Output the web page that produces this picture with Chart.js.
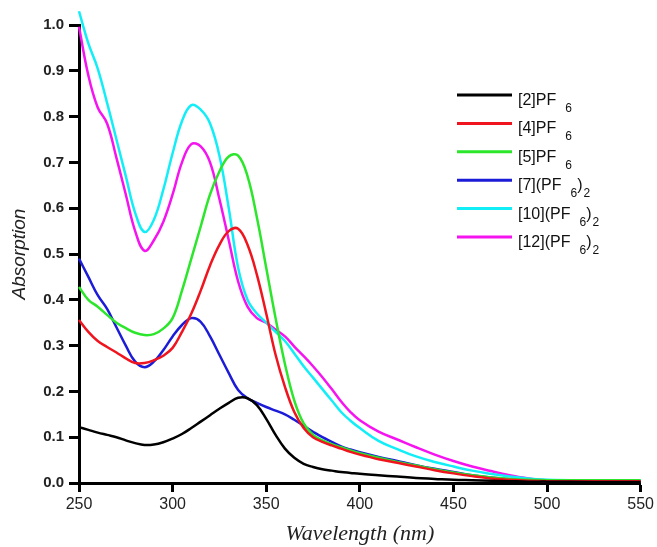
<!DOCTYPE html>
<html>
<head>
<meta charset="utf-8">
<script src="https://cdn.jsdelivr.net/npm/chart.js@4.4.0/dist/chart.umd.min.js"></script>
<style>
    html, body { margin: 0; padding: 0; background: #fff; }
    #wrap { width: 657px; height: 547px; position: relative; }
</style>
</head>
<body>
<div id="wrap"><canvas id="absChart"></canvas></div>
<script>
// Wavelength grid (nm) shared by all spectra
const wavelengths = [250, 255, 260, 265, 270, 275, 280, 285, 290, 295, 300, 305, 310, 315, 320, 325, 330, 335, 340, 345, 350, 355, 360,
                     365, 370, 375, 380, 385, 390, 395, 400, 410, 420, 430, 440, 450, 460, 470, 480, 490, 500, 525, 550];

const seriesNames = ['[2]PF₆', '[4]PF₆', '[5]PF₆', '[7](PF₆)₂', '[10](PF₆)₂', '[12](PF₆)₂'];
const seriesColors = ['#000000', '#f0141e', '#2be62b', '#1c1cd8', '#12eef8', '#f514f0'];

const abs2 = [0.122, 0.116, 0.110, 0.105, 0.100, 0.093, 0.087, 0.083, 0.084, 0.089, 0.097, 0.107, 0.120, 0.134, 0.148, 0.162, 0.175, 0.186, 0.185, 0.170, 0.140, 0.105, 0.075,
              0.055, 0.042, 0.035, 0.030, 0.027, 0.024, 0.022, 0.020, 0.017, 0.014, 0.011, 0.009, 0.007, 0.006, 0.005, 0.004, 0.003, 0.003, 0.002, 0.002];
const abs4 = [0.356, 0.330, 0.310, 0.297, 0.285, 0.272, 0.262, 0.262, 0.268, 0.278, 0.295, 0.330, 0.370, 0.420, 0.475, 0.520, 0.550, 0.555, 0.520, 0.455, 0.370, 0.280, 0.210,
              0.155, 0.120, 0.100, 0.090, 0.082, 0.075, 0.068, 0.062, 0.052, 0.044, 0.036, 0.028, 0.021, 0.015, 0.010, 0.007, 0.005, 0.004, 0.004, 0.004];
const abs5 = [0.428, 0.400, 0.385, 0.367, 0.350, 0.338, 0.328, 0.323, 0.325, 0.337, 0.360, 0.420, 0.490, 0.560, 0.630, 0.680, 0.713, 0.715, 0.670, 0.580, 0.470, 0.360, 0.260,
              0.180, 0.130, 0.105, 0.093, 0.085, 0.078, 0.071, 0.065, 0.055, 0.046, 0.038, 0.030, 0.023, 0.017, 0.012, 0.009, 0.007, 0.006, 0.006, 0.006];
const abs7 = [0.490, 0.450, 0.410, 0.380, 0.340, 0.300, 0.265, 0.253, 0.265, 0.290, 0.320, 0.345, 0.360, 0.352, 0.320, 0.280, 0.240, 0.203, 0.185, 0.175, 0.166, 0.158, 0.150,
              0.138, 0.125, 0.112, 0.100, 0.090, 0.080, 0.073, 0.067, 0.057, 0.048, 0.039, 0.031, 0.024, 0.017, 0.012, 0.008, 0.005, 0.004, 0.004, 0.004];
const abs10 = [1.030, 0.960, 0.905, 0.830, 0.750, 0.670, 0.590, 0.548, 0.575, 0.640, 0.720, 0.790, 0.825, 0.815, 0.785, 0.715, 0.600, 0.470, 0.400, 0.370, 0.350, 0.330, 0.310,
               0.283, 0.255, 0.230, 0.205, 0.180, 0.155, 0.136, 0.120, 0.092, 0.074, 0.058, 0.046, 0.036, 0.027, 0.020, 0.014, 0.010, 0.007, 0.006, 0.006];
const abs12 = [0.996, 0.890, 0.820, 0.785, 0.710, 0.630, 0.550, 0.507, 0.530, 0.570, 0.630, 0.700, 0.740, 0.735, 0.700, 0.620, 0.530, 0.440, 0.385, 0.360, 0.350, 0.335, 0.320,
               0.298, 0.277, 0.255, 0.231, 0.205, 0.178, 0.155, 0.137, 0.112, 0.095, 0.078, 0.062, 0.048, 0.036, 0.026, 0.017, 0.010, 0.006, 0.004, 0.003];

const seriesValues = [abs2, abs4, abs5, abs7, abs10, abs12];

// Legend drawn by hand so the PF6 subscripts can sit below the baseline
const subDigits = '₀₁₂₃₄₅₆₇₈₉';
const subscriptLegend = {
    id: 'subscriptLegend',
    afterDraw(chart) {
        const ctx = chart.ctx;
        ctx.save();
        ctx.textBaseline = 'alphabetic';
        chart.data.datasets.forEach((ds, i) => {
            const y = 95 + i * 28.4;
            ctx.strokeStyle = ds.borderColor;
            ctx.lineWidth = 3;
            ctx.beginPath();
            ctx.moveTo(457, y);
            ctx.lineTo(512, y);
            ctx.stroke();

            ctx.fillStyle = '#111';
            let x = 518;
            let prev = '';
            for (const ch of ds.label) {
                const k = subDigits.indexOf(ch);
                if (k >= 0) {
                    ctx.font = '12px "Liberation Sans", Arial, sans-serif';
                    // wide gap after the F of PF, tight after a bracket
                    x += (prev === 'F') ? 9 : 1;
                    ctx.fillText(String(k), x, y + 17);
                    x += ctx.measureText(String(k)).width;
                } else {
                    ctx.font = '16px "Liberation Sans", Arial, sans-serif';
                    ctx.fillText(ch, x, y + 10);
                    x += ctx.measureText(ch).width;
                }
                prev = ch;
            }
        });
        ctx.restore();
    }
};

const ctx = document.getElementById('absChart').getContext('2d');

const absChart = new Chart(ctx, {
    type: 'line',
    data: {
        datasets: seriesValues.map((vals, i) => ({
            label: seriesNames[i],
            data: wavelengths.map((w, j) => ({ x: w, y: vals[j] })),
            borderColor: seriesColors[i],
            backgroundColor: seriesColors[i],
            borderWidth: 2.5,
            pointRadius: 0,
            tension: 0.4,
            fill: false,
            clip: false
        }))
    },
    options: {
        responsive: true,
        maintainAspectRatio: false,
        animation: false,
        layout: {
            padding: { left: 8, right: 16, top: 25, bottom: 0 }
        },
        plugins: {
            legend: { display: false },
            tooltip: { enabled: false }
        },
        scales: {
            x: {
                type: 'linear',
                min: 250,
                max: 550,
                afterFit: function(scale) { scale.height = 64; },
                border: { display: true, color: '#000', width: 3 },
                grid: {
                    drawOnChartArea: false,
                    drawTicks: true,
                    tickLength: 9,
                    tickWidth: 3,
                    tickColor: '#000'
                },
                ticks: {
                    stepSize: 50,
                    color: '#222',
                    padding: 3,
                    maxRotation: 0,
                    font: { family: '"Liberation Sans", Arial, sans-serif', size: 16 }
                },
                title: {
                    display: true,
                    text: 'Wavelength (nm)',
                    color: '#222',
                    padding: { top: 0, bottom: 0 },
                    font: { family: '"Liberation Serif", "Times New Roman", serif', size: 22, style: 'italic' }
                }
            },
            y: {
                min: 0,
                max: 1.0,
                afterFit: function(scale) { scale.width = 71; },
                border: { display: true, color: '#000', width: 3 },
                grid: {
                    drawOnChartArea: false,
                    drawTicks: true,
                    tickLength: 10,
                    tickWidth: 3,
                    tickColor: '#000'
                },
                ticks: {
                    stepSize: 0.1,
                    color: '#222',
                    padding: 5,
                    font: { family: '"Liberation Sans", Arial, sans-serif', size: 15, weight: 'bold' },
                    callback: function(value) { return value.toFixed(1); }
                },
                title: {
                    display: true,
                    text: 'Absorption',
                    color: '#222',
                    padding: { top: 0, bottom: 0 },
                    font: { family: '"Liberation Sans", Arial, sans-serif', size: 19, style: 'italic' }
                }
            }
        }
    },
    plugins: [subscriptLegend]
});
</script>
</body>
</html>
